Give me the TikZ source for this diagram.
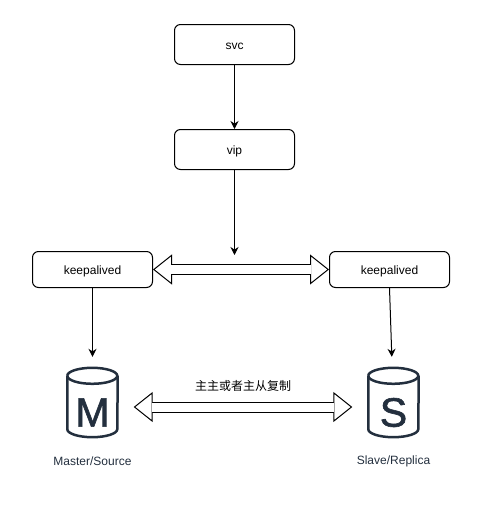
\documentclass[tikz,border=0pt]{standalone}
\usepackage{fontspec}
\setmainfont{Liberation Sans}
\newfontfamily\cjkfont{Noto Sans CJK SC}
\newfontfamily\dbfont[FakeBold=1.5]{Liberation Sans}
\usetikzlibrary{arrows.meta}
\definecolor{dbink}{HTML}{232F3E}

\begin{document}
\begin{tikzpicture}[x=1pt,y=-1pt,
  box/.style={draw, rounded corners=6pt, line width=1pt, minimum width=120pt, text height=9pt, text depth=0pt, font=\fontsize{12pt}{14pt}\selectfont},
  link/.style={line width=1pt, -{Stealth[length=8pt,width=8pt]}},
  fatlink/.style={line width=1pt, double=white, double distance=9pt, {Triangle[open,fill=white,length=19pt,width=30pt]}-{Triangle[open,fill=white,length=19pt,width=30pt]}},
  fatfill/.style={white, line width=9pt},
  dbbody/.style={minimum width=50pt, minimum height=62pt, inner sep=0pt},
  dbline/.style={draw=dbink, line width=2.5pt},
  dblabel/.style={text=dbink, font=\fontsize{12pt}{14pt}\selectfont}]
\useasboundingbox (0,0) rectangle (483,506);
\node[box, minimum height=40pt] (svc) at (234.5,44.5) {svc};
\node[box, minimum height=40pt] (vip) at (234.5,149.5) {vip};
\node[box, minimum height=36pt] (keepL) at (92.5,269.5) {keepalived};
\node[box, minimum height=36pt] (keepR) at (389.5,269.5) {keepalived};
\foreach \n/\x/\t/\l in {master/92.5/M/Master\slash Source,slave/393.5/S/Slave\slash Replica} {
  \node[dbbody] (\n) at (\x,407) {};
  \draw[dbline] (\n.north west) arc[start angle=180, end angle=-180, x radius=25pt, y radius=8pt];
  \draw[dbline] (\n.north west) -- ([yshift=9pt]\n.south west) arc[start angle=180, end angle=360, x radius=25pt, y radius=8pt] -- (\n.north east);
  \node[text=dbink, font=\dbfont\fontsize{41pt}{41pt}\selectfont] (\n text) at (\x,412.5) {\t};
  \node[dblabel] (\n label) at (\x,461.5) {\l};
}
\coordinate (vipend) at (234.5,255);
\draw[link] (svc) -- (vip);
\draw[link] (vip) -- (vipend);
\draw[link, shorten >=19pt] (keepL) -- (master);
\draw[link, shorten >=19pt] (keepR.south) -- (slave);
\draw[fatlink] (keepL) -- (keepR);
\draw[fatfill, shorten <=18pt, shorten >=18pt] (keepL.east) -- (keepR.west);
\draw[fatlink, shorten <=16pt, shorten >=16pt] (master) -- (slave);
\draw[fatfill, shorten <=34pt, shorten >=34pt] (master.east) -- (slave.west);
\node[font=\cjkfont\fontsize{12pt}{14pt}\selectfont] (sync) at (243,386) {主主或者主从复制};
\end{tikzpicture}
\end{document}
